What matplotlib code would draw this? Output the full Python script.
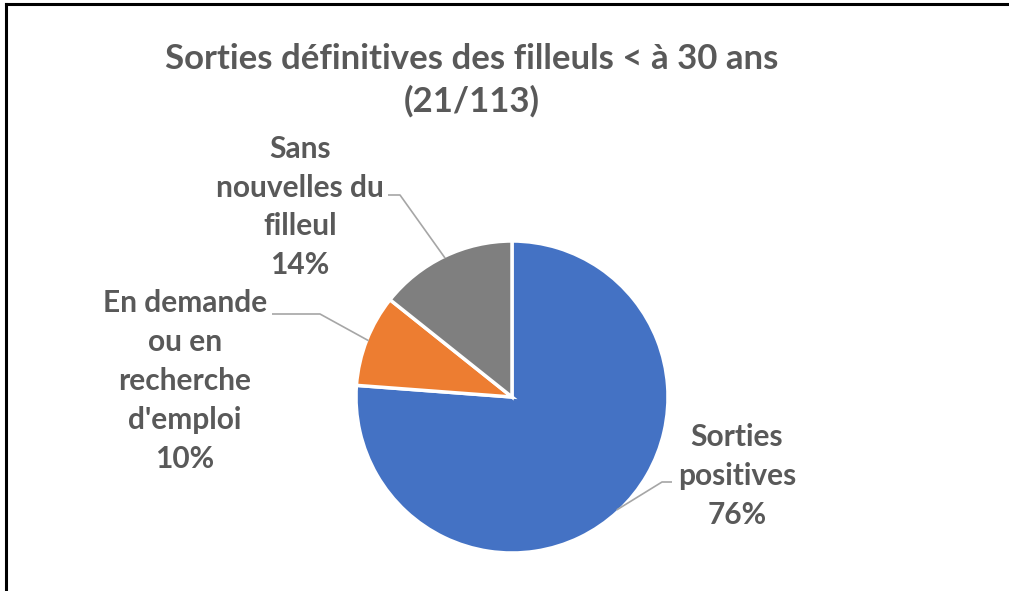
import numpy as np
import matplotlib.pyplot as plt
from matplotlib.lines import Line2D

# data
labels = ["Sorties\npositives", "En demande\nou en\nrecherche\nd'emploi", "Sans\nnouvelles du\nfilleul"]
counts = [16, 2, 3]
colors = ["#4472C4", "#ED7D31", "#7F7F7F"]
title = "Sorties définitives des filleuls < à 30 ans\n(21/113)"

W, H = 1009, 591
fig = plt.figure(figsize=(W / 100, H / 100), dpi=100)
ax = fig.add_axes([0, 0, 1, 1])

# pie in pixel coordinates (y up)
cx, cy, r = 512, H - 397, 156
wedges, _ = ax.pie(counts, colors=colors, startangle=90, counterclock=False,
                   center=(cx, cy), radius=r, frame=True,
                   wedgeprops=dict(edgecolor='white', linewidth=2.5))
ax.set_xlim(0, W)
ax.set_ylim(0, H)
ax.axis('off')

txt_color = '#595959'
font = 'Lato'

# label positions (pixel coords, top-left origin): text centre, elbow, line end
label_pos = [((737, 476), (662, 482), (672, 482)),
             ((185, 381), (320, 314), (272, 314)),
             ((300, 207), (400, 195), (388, 195))]

total = sum(counts)
pcts = [round(100 * c / total) for c in counts]
for w, lab, pct, (tpos, elbow, lend) in zip(wedges, labels, pcts, label_pos):
    mid = np.deg2rad((w.theta1 + w.theta2) / 2)
    sx = cx + (r - 2) * np.cos(mid)
    sy = cy + (r - 2) * np.sin(mid)
    ax.plot([sx, elbow[0], lend[0]], [sy, H - elbow[1], H - lend[1]],
            color='#A6A6A6', lw=1.2, solid_capstyle='butt')
    ax.text(tpos[0], H - tpos[1], f"{lab}\n{pct}%", ha='center', va='center',
            fontsize=21.5, fontweight='bold', color=txt_color, family=font,
            linespacing=1.47)

ax.text(472, H - 80, title, ha='center', va='center', fontsize=25,
        fontweight='bold', color=txt_color, family=font, linespacing=1.36)

# frame of the cropped chart area (left and top edges)
fig.add_artist(Line2D([6 / W, 6 / W], [0, 1 - 4 / H], color='black', lw=2.2,
                      transform=fig.transFigure))
fig.add_artist(Line2D([6 / W, 1], [1 - 4 / H, 1 - 4 / H], color='black', lw=2.2,
                      transform=fig.transFigure))

fig.savefig('out.png', dpi=100)
